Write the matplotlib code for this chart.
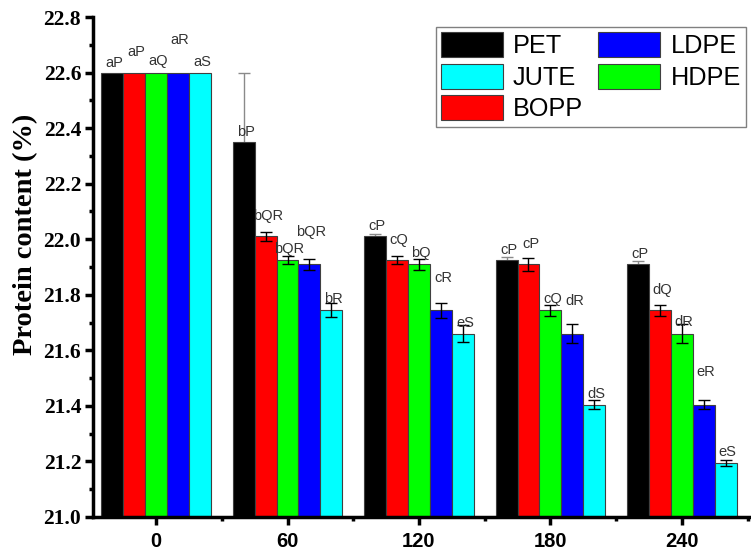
import matplotlib
matplotlib.use("Agg")
import matplotlib.pyplot as plt
import numpy as np

# storage time (days) and protein content (%) for each packaging material
DAYS = ["0", "60", "120", "180", "240"]
SERIES = ["PET", "BOPP", "HDPE", "LDPE", "JUTE"]
COLORS = ["#000000", "#ff0000", "#00ff00", "#0000ff", "#00ffff"]

PET = [22.60, 22.35, 22.01, 21.925, 21.91]
BOPP = [22.60, 22.01, 21.925, 21.91, 21.745]
HDPE = [22.60, 21.925, 21.91, 21.745, 21.66]
LDPE = [22.60, 21.91, 21.745, 21.66, 21.405]
JUTE = [22.60, 21.745, 21.66, 21.405, 21.195]

PET_ERR = [0.0, 0.25, 0.01, 0.01, 0.01]
BOPP_ERR = [0.0, 0.015, 0.015, 0.023, 0.02]
HDPE_ERR = [0.0, 0.015, 0.02, 0.02, 0.035]
LDPE_ERR = [0.0, 0.02, 0.027, 0.035, 0.015]
JUTE_ERR = [0.0, 0.024, 0.03, 0.015, 0.01]

PET_LBL = ["aP", "bP", "cP", "cP", "cP"]
BOPP_LBL = ["aP", "bQR", "cQ", "cP", "dQ"]
HDPE_LBL = ["aQ", "bQR", "bQ", "cQ", "dR"]
LDPE_LBL = ["aR", "bQR", "cR", "dR", "eR"]
JUTE_LBL = ["aS", "bR", "eS", "dS", "eS"]

values = [PET, BOPP, HDPE, LDPE, JUTE]
errors = [PET_ERR, BOPP_ERR, HDPE_ERR, LDPE_ERR, JUTE_ERR]
labels = [PET_LBL, BOPP_LBL, HDPE_LBL, LDPE_LBL, JUTE_LBL]

# label offsets above bar top (points), staggered per series like the original
LBL_OFFSET = [4.3, 11.9, 5.4, 20.5, 5.0]
ERR_COLORS = ["#8a8a8a", "#000000", "#000000", "#000000", "#000000"]
ERR_Z = [1, 3, 3, 3, 3]

W = 1 / 6
x = np.arange(len(DAYS))

fig = plt.figure(figsize=(7.51, 5.53), dpi=100)
ax = fig.add_axes([93 / 751, 36 / 553, 669 / 751, 500 / 553])

handles = {}
for i, (name, vals, err, lbls) in enumerate(zip(SERIES, values, errors, labels)):
    pos = x + (i - 2) * W
    bars = ax.bar(pos, vals, W, color=COLORS[i], edgecolor="#404040", linewidth=0.8,
                  zorder=2)
    handles[name] = bars
    e = np.array(err)
    m = e > 0
    ax.errorbar(pos[m], np.array(vals)[m], yerr=e[m], fmt="none", ecolor=ERR_COLORS[i],
                elinewidth=1.0, capsize=4.5, capthick=1.0, zorder=ERR_Z[i])
    for px, v, t in zip(pos, vals, lbls):
        ax.annotate(t, (px, v), xytext=(1.5, LBL_OFFSET[i]), textcoords="offset points",
                    ha="center", va="baseline", fontsize=10.5, color="#333333",
                    family="Liberation Sans", zorder=4)

ax.set_ylim(21.0, 22.8)
ax.set_xlim(-0.48, 4.61)
ax.set_yticks(np.arange(21.0, 22.81, 0.2))
ax.set_yticks(np.arange(21.1, 22.8, 0.2), minor=True)
ax.set_yticklabels([f"{v:.1f}" for v in np.arange(21.0, 22.81, 0.2)],
                   family="Liberation Serif", fontweight="bold", fontsize=15.5)
ax.set_xticks(x)
ax.set_xticks(x + 0.5, minor=True)
ax.set_xticklabels(DAYS, family="Liberation Sans", fontweight="bold", fontsize=14.5)

for side in ("top", "right"):
    ax.spines[side].set_visible(False)
for side in ("left", "bottom"):
    ax.spines[side].set_linewidth(2.5)
ax.tick_params(which="major", direction="out", length=5.5, width=2.5, pad=3)
ax.tick_params(axis="x", which="major", pad=5)
ax.tick_params(which="minor", direction="out", length=3, width=2.5)

fig.text(26 / 751, 1 - 234 / 553, "Protein content (%)", rotation=90, ha="center",
         va="center", family="Liberation Serif", fontweight="bold", fontsize=20.5)

order = ["PET", "JUTE", "BOPP", "LDPE", "HDPE"]
leg = fig.legend([handles[k] for k in order], order, loc="upper left",
                 bbox_to_anchor=(436 / 751, 1 - 27 / 553), ncol=2,
                 prop={"family": "Liberation Sans", "size": 18.2},
                 handlelength=2.45, handleheight=1.15, handletextpad=0.4,
                 columnspacing=0.6, labelspacing=0.22, borderpad=0.2,
                 borderaxespad=0, fancybox=False, framealpha=1)
leg.get_frame().set_edgecolor("#808080")
leg.get_frame().set_linewidth(1.0)

fig.savefig("out.png", dpi=100)
